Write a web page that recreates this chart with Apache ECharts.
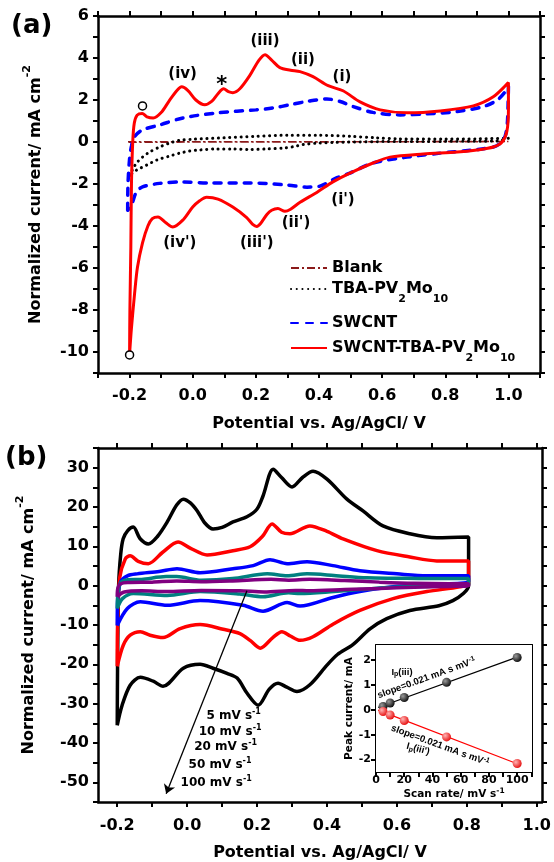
<!DOCTYPE html>
<html>
<head>
<meta charset="utf-8">
<script src="https://cdn.jsdelivr.net/npm/echarts@6.0.0/dist/echarts.min.js"></script>
<style>
html,body{margin:0;padding:0;background:#fff}
#main{width:554px;height:862px}
</style>
</head>
<body>
<div id="main"></div>
<script>
var FONT = 'DejaVu Sans';
var NARROW = 'Liberation Sans';

// ---- panel (a): potential (V) vs normalized current (mA cm-2), one closed loop per film
var blankA = [[-0.205, 0.01], [1.0, 0.02], [1.0, -0.01], [-0.205, -0.01]];
var tbaA = [[-0.2,-1.6],[-0.19,-1.3],[-0.178,-1.0],[-0.159,-0.72],[-0.137,-0.48],[-0.105,-0.24],[-0.073,-0.05],[-0.041,0.08],[0,0.13],[0.1,0.2],[0.2,0.27],[0.3,0.32],[0.4,0.32],[0.5,0.27],[0.58,0.2],[0.65,0.15],[0.8,0.14],[0.9,0.15],[1.0,0.18],
  [0.97,0.05],[0.8,0.03],[0.6,0.02],[0.45,-0.02],[0.4,-0.05],[0.35,-0.12],[0.32,-0.22],[0.286,-0.29],[0.235,-0.33],[0.181,-0.36],[0.127,-0.33],[0.076,-0.33],[0.022,-0.38],[-0.01,-0.43],[-0.041,-0.53],[-0.073,-0.67],[-0.114,-0.86],[-0.146,-1.1],[-0.178,-1.34],[-0.2,-1.6]];
var swcntA = [[-0.206,-3.25],[-0.205,-2.0],[-0.2,-0.8],[-0.194,-0.2],[-0.185,0.24],[-0.16,0.57],[-0.105,0.81],[-0.03,1.15],[0.08,1.39],[0.2,1.53],[0.255,1.62],[0.31,1.78],[0.362,1.93],[0.425,2.05],[0.467,1.93],[0.508,1.69],[0.571,1.41],[0.657,1.29],[0.743,1.34],[0.838,1.45],[0.921,1.69],[0.965,2.0],[0.99,2.4],[1.0,2.65],
  [0.997,1.0],[0.99,0.3],[0.975,-0.05],[0.952,-0.24],[0.889,-0.38],[0.784,-0.53],[0.679,-0.72],[0.571,-1.0],[0.498,-1.48],[0.457,-1.7],[0.403,-2.1],[0.362,-2.15],[0.3,-2.05],[0.181,-1.95],[0.05,-1.95],[-0.032,-1.9],[-0.105,-1.97],[-0.159,-2.14],[-0.178,-2.37],[-0.194,-3.0],[-0.206,-3.25]];
var hybridA = [[-0.2,-10.1],[-0.199,-8],[-0.196,-5],[-0.194,-2],[-0.19,0],[-0.185,0.9],[-0.176,1.28],[-0.16,1.36],[-0.145,1.2],[-0.125,1.14],[-0.1,1.4],[-0.075,1.95],[-0.05,2.45],[-0.035,2.63],[-0.015,2.45],[0.01,2.0],[0.038,1.77],[0.06,1.93],[0.08,2.3],[0.098,2.53],[0.113,2.4],[0.127,2.35],[0.15,2.55],[0.18,3.15],[0.21,3.9],[0.229,4.16],[0.25,3.9],[0.276,3.54],[0.31,3.42],[0.34,3.35],[0.381,3.11],[0.429,2.68],[0.476,2.44],[0.53,1.91],[0.594,1.53],[0.679,1.39],[0.784,1.48],[0.889,1.72],[0.952,2.15],[1.0,2.83],
  [1.0,1.5],[0.995,0.5],[0.98,0.0],[0.952,-0.24],[0.9,-0.38],[0.838,-0.48],[0.73,-0.57],[0.625,-0.72],[0.571,-1.0],[0.498,-1.48],[0.444,-1.9],[0.393,-2.4],[0.34,-2.87],[0.31,-3.2],[0.292,-3.3],[0.27,-3.17],[0.25,-3.25],[0.235,-3.45],[0.215,-3.88],[0.203,-4.02],[0.19,-3.92],[0.171,-3.6],[0.127,-3.1],[0.08,-2.72],[0.044,-2.63],[0.022,-2.8],[0.0,-3.1],[-0.03,-3.7],[-0.063,-4.05],[-0.085,-3.85],[-0.11,-3.57],[-0.128,-3.65],[-0.142,-4.0],[-0.159,-4.8],[-0.175,-5.96],[-0.184,-7.2],[-0.194,-8.85],[-0.2,-10.1]];
var circlesA = [[-0.159, 1.72], [-0.2, -10.14]];
var notesA = [[-0.032,3.25,'(iv)'],[0.092,2.68,'*'],[0.229,4.8,'(iii)'],[0.349,3.9,'(ii)'],[0.473,3.1,'(i)'],
  [0.476,-2.78,"(i')"],[0.327,-3.88,"(ii')"],[0.203,-4.83,"(iii')"],[-0.041,-4.83,"(iv')"]];

// ---- panel (b): scan-rate series
var cv100 = [[-0.2,-35.5],[-0.199,-20],[-0.196,0],[-0.19,8],[-0.183,11.9],[-0.17,14],[-0.154,14.9],[-0.135,12],[-0.111,10.6],[-0.085,12.5],[-0.057,16.2],[-0.03,20.5],[-0.011,22.0],[0.01,21],[0.029,19],[0.05,16],[0.074,14.4],[0.1,14.8],[0.131,16.2],[0.171,17.5],[0.2,19.5],[0.217,22.8],[0.246,29.6],[0.27,27.5],[0.3,25.1],[0.33,27.5],[0.36,29.1],[0.4,27.1],[0.457,22.0],[0.503,19],[0.56,15.2],[0.637,13.2],[0.714,12.2],[0.805,12.4],
  [0.805,0],[0.79,-2],[0.76,-3.8],[0.72,-5.1],[0.637,-6.3],[0.571,-8.4],[0.523,-11],[0.474,-15],[0.43,-17.5],[0.4,-20.2],[0.351,-25.2],[0.314,-26.9],[0.285,-25.8],[0.26,-24.8],[0.235,-26.3],[0.203,-30.4],[0.171,-27.3],[0.143,-23.5],[0.114,-22.3],[0.074,-21],[0.037,-20],[-0.011,-21],[-0.069,-25.6],[-0.097,-24.3],[-0.134,-23.3],[-0.163,-25.3],[-0.186,-30.4],[-0.2,-35.5]];
var cv50 = [[-0.2,-20.5],[-0.199,-10],[-0.193,2],[-0.177,6.8],[-0.163,7.6],[-0.14,6.2],[-0.111,5.6],[-0.07,8.5],[-0.026,11.1],[0.01,9.5],[0.057,7.8],[0.131,8.9],[0.18,9.9],[0.215,12.5],[0.243,15.7],[0.27,13.6],[0.294,13.2],[0.351,15.2],[0.4,13.8],[0.446,11.9],[0.543,8.9],[0.637,7.3],[0.714,6.3],[0.805,6.3],
  [0.805,0.5],[0.78,-0.3],[0.686,-1.5],[0.589,-3.3],[0.494,-6.3],[0.417,-9.8],[0.36,-13],[0.323,-13.9],[0.295,-12.8],[0.271,-11.7],[0.245,-13.2],[0.209,-15.9],[0.18,-13.9],[0.151,-12.2],[0.103,-11.1],[0.037,-9.9],[-0.02,-10.9],[-0.069,-13.2],[-0.106,-12.6],[-0.134,-11.7],[-0.163,-12.6],[-0.183,-15.2],[-0.2,-20.5]];
var cv20 = [[-0.2,-10.1],[-0.199,-4],[-0.19,1.0],[-0.171,2.5],[-0.143,3.0],[-0.08,3.6],[-0.029,4.3],[0.037,3.3],[0.131,4.3],[0.189,5.1],[0.237,6.6],[0.286,5.6],[0.343,6.1],[0.417,5.1],[0.494,3.8],[0.6,3.0],[0.686,2.5],[0.805,2.5],
  [0.805,1.0],[0.686,0.3],[0.589,-0.3],[0.494,-1.5],[0.417,-3.0],[0.323,-5.2],[0.286,-4.3],[0.217,-6.5],[0.16,-5.0],[0.037,-3.8],[-0.057,-5.0],[-0.134,-4.1],[-0.171,-5.8],[-0.2,-10.1]];
var cv10 = [[-0.2,-5.8],[-0.198,-2],[-0.19,0.8],[-0.17,1.5],[-0.13,1.6],[-0.06,2.3],[-0.03,2.3],[0.04,1.4],[0.13,1.8],[0.229,3.0],[0.286,2.5],[0.343,3.0],[0.42,2.6],[0.514,2.0],[0.6,1.9],[0.686,1.8],[0.805,1.8],
  [0.805,0.3],[0.75,-0.1],[0.686,-0.2],[0.589,-0.4],[0.494,-1.0],[0.42,-1.5],[0.323,-2.0],[0.29,-1.8],[0.217,-2.8],[0.15,-2.1],[0.037,-1.5],[-0.057,-2.5],[-0.154,-2.0],[-0.185,-3.3],[-0.2,-5.8]];
var cv5 = [[-0.2,-2.8],[-0.198,-0.5],[-0.19,0.5],[-0.17,0.8],[-0.1,0.9],[-0.03,1.2],[0.04,1.0],[0.13,1.2],[0.24,1.6],[0.29,1.4],[0.35,1.6],[0.45,1.3],[0.55,0.9],[0.65,0.6],[0.75,0.5],[0.805,0.5],
  [0.805,0],[0.75,-0.2],[0.65,-0.4],[0.55,-0.7],[0.45,-1.0],[0.35,-1.3],[0.31,-1.2],[0.22,-1.6],[0.15,-1.3],[0.04,-1.2],[-0.06,-1.5],[-0.13,-1.3],[-0.18,-1.6],[-0.2,-2.8]];
var speedNotes = [[0.133,-33.2,'5 mV s'],[0.123,-37.2,'10 mV s'],[0.11,-41,'20 mV s'],[0.094,-45.6,'50 mV s'],[0.083,-50.1,'100 mV s']];
var arrowB = [[0.171,-1.3],[-0.06,-52.9]];

// ---- inset: peak current vs scan rate
var scanRates = [5, 10, 20, 50, 100];
var ipAnodic = [0.13, 0.27, 0.49, 1.1, 2.1];
var ipCathodic = [-0.07, -0.21, -0.43, -1.09, -2.16];

// ---- ticks
var ticksXa = [-0.3,-0.2,-0.1,0,0.1,0.2,0.3,0.4,0.5,0.6,0.7,0.8,0.9,1.0,1.1];
var labelsXa = [-0.2,0,0.2,0.4,0.6,0.8,1.0];
var ticksYa = [-11,-10,-9,-8,-7,-6,-5,-4,-3,-2,-1,0,1,2,3,4,5,6];
var labelsYa = [-10,-8,-6,-4,-2,0,2,4,6];
var ticksXb = [-0.2,-0.1,0,0.1,0.2,0.3,0.4,0.5,0.6,0.7,0.8,0.9,1.0];
var ticksYb = [-55,-50,-45,-40,-35,-30,-25,-20,-15,-10,-5,0,5,10,15,20,25,30,35];
var labelsYb = [-50,-40,-30,-20,-10,0,10,20,30];
var labelsXi = [0,20,40,60,80,100];
var ticksXi = [0,10,20,30,40,50,60,70,80,90,100,110];
var labelsYi = [-2,-1,0,1,2];

function pairs(xs, ys) {
    return xs.map(function (x, i) { return [x, ys[i]]; });
}
function fitLine(xs, ys, x0, x1) {
    var n = xs.length, mx = 0, my = 0, sxx = 0, sxy = 0;
    for (var i = 0; i < n; i++) { mx += xs[i] / n; my += ys[i] / n; }
    for (var j = 0; j < n; j++) { sxx += (xs[j] - mx) * (xs[j] - mx); sxy += (xs[j] - mx) * (ys[j] - my); }
    var k = sxy / sxx, b = my - k * mx;
    return [[x0, k * x0 + b], [x1, k * x1 + b]];
}

function txt(size) {
    return {fontFamily: FONT, fontWeight: 'bold', fontSize: size, color: '#000'};
}
function richSet(size, small, lh, fam) {
    fam = fam || FONT;
    return {
        m: {fontFamily: fam, fontWeight: 'bold', fontSize: size, color: '#000', lineHeight: lh, verticalAlign: 'middle'},
        hi: {fontFamily: fam, fontWeight: 'bold', fontSize: small, color: '#000', verticalAlign: 'top'},
        lo: {fontFamily: fam, fontWeight: 'bold', fontSize: small, color: '#000', verticalAlign: 'bottom'}
    };
}

function axis(grid, pos, min, max, ticks, labels, fmt, size, margin, lw) {
    return {
        type: 'value', gridIndex: grid, position: pos, min: min, max: max,
        splitLine: {show: false},
        axisLine: {show: true, onZero: false, lineStyle: {color: '#000', width: lw}},
        axisTick: {show: !!ticks, inside: false, length: 5, lineStyle: {color: '#000', width: 2}, customValues: ticks || []},
        axisLabel: {show: !!labels, customValues: labels || [], margin: margin, formatter: fmt,
            fontFamily: FONT, fontWeight: 'bold', fontSize: size, color: '#000'}
    };
}
function f1(v) { return v.toFixed(1); }
function f0(v) { return String(Math.round(v)); }

var xAxes = [
    axis(0, 'bottom', -0.3, 1.1, ticksXa, labelsXa, f1, 16, 15, 2.5),
    axis(0, 'top', -0.3, 1.1, ticksXa, null, null, 16, 9, 2.5),
    axis(1, 'bottom', -0.255, 1.015, ticksXb, labelsXa, f1, 16, 16, 2.5),
    axis(1, 'top', -0.255, 1.015, ticksXb, null, null, 16, 9, 2.5),
    axis(2, 'bottom', 0, 110.5, ticksXi, labelsXi, f0, 11, 3, 2),
    axis(2, 'top', 0, 110.5, null, null, null, 11, 3, 2)
];
var yAxes = [
    axis(0, 'left', -11, 6, ticksYa, labelsYa, f0, 16, 9, 2.5),
    axis(0, 'right', -11, 6, ticksYa, null, null, 16, 9, 2.5),
    axis(1, 'left', -55, 35, ticksYb, labelsYb, f0, 16, 9, 2.5),
    axis(1, 'right', -55, 35, ticksYb, null, null, 16, 9, 2.5),
    axis(2, 'left', -2.5, 2.6, labelsYi, labelsYi, f0, 11, 5, 2),
    axis(2, 'right', -2.5, 2.6, null, null, null, 11, 5, 2)
];

var xName = 'Potential vs. Ag/AgCl/ V';
xAxes[0].name = xName; xAxes[0].nameLocation = 'middle'; xAxes[0].nameGap = 43; xAxes[0].nameTextStyle = txt(16);
xAxes[2].name = xName; xAxes[2].nameLocation = 'middle'; xAxes[2].nameGap = 43; xAxes[2].nameTextStyle = txt(16);
var yName = '{m|Normalized current/ mA cm}{hi|-2}';
[0, 2].forEach(function (i) {
    yAxes[i].name = yName; yAxes[i].nameLocation = 'middle'; yAxes[i].nameRotate = 90;
    yAxes[i].nameTextStyle = {rich: richSet(16, 11, 28)};
});
yAxes[0].nameGap = 48;
yAxes[2].nameGap = 55;
xAxes[4].name = '{m|Scan rate/ mV s}{hi|-1}'; xAxes[4].nameLocation = 'middle'; xAxes[4].nameGap = 13;
xAxes[4].nameTextStyle = {rich: richSet(10.5, 7.5, 14)};
yAxes[4].name = 'Peak current/ mA'; yAxes[4].nameLocation = 'middle'; yAxes[4].nameRotate = 90; yAxes[4].nameGap = 20;
yAxes[4].nameTextStyle = txt(10.5);

function cv(name, data, color, width, type, xi, yi, extra) {
    var s = {
        name: name, type: 'line', data: data, xAxisIndex: xi, yAxisIndex: yi,
        symbol: 'none', smooth: 0.3, silent: true,
        lineStyle: {color: color, width: width, type: type || 'solid'},
        itemStyle: {color: color}
    };
    if (extra) for (var k in extra) s.lineStyle[k] = extra[k];
    return s;
}

function noteSeries(list, xi, yi, size, rich, fam) {
    return {
        type: 'scatter', xAxisIndex: xi, yAxisIndex: yi, symbolSize: 1, silent: true, z: 6,
        itemStyle: {color: 'rgba(0,0,0,0)', opacity: 1},
        label: {show: true, position: 'inside', opacity: 1, formatter: function (p) { return p.name; },
            fontFamily: fam || FONT, fontWeight: 'bold', fontSize: size, color: '#000', rich: rich},
        data: list.map(function (d) {
            var item = {name: d[2], value: [d[0], d[1]]};
            if (d[3] !== undefined) item.label = {rotate: d[3]};
            if (d[2] === '*') item.label = {fontSize: 21};
            return item;
        })
    };
}

var legendNames = {
    'Blank': '{m|Blank}',
    'TBA-PV2Mo10': '{m|TBA-PV}{lo|2}{m|Mo}{lo|10}',
    'SWCNT': '{m|SWCNT}',
    'SWCNT-TBA-PV2Mo10': '{m|SWCNT-TBA-PV}{lo|2}{m|Mo}{lo|10}'
};
function legendRow(name, top, lh) {
    return {
        data: [name], left: 290, top: top, orient: 'vertical', itemWidth: 36, itemHeight: 12,
        padding: 0, selectedMode: false,
        itemStyle: {opacity: 0},
        formatter: function (n) { return legendNames[n]; },
        textStyle: {rich: richSet(16, 11, lh)}
    };
}

var inkDark = new echarts.graphic.RadialGradient(0.35, 0.35, 0.75, [{offset: 0, color: '#9a9a9a'}, {offset: 1, color: '#000'}]);
var inkRed = new echarts.graphic.RadialGradient(0.35, 0.35, 0.75, [{offset: 0, color: '#ffb4b4'}, {offset: 1, color: '#e40000'}]);

var insetNotes = [[18.4, 1.52, '{m|I}{lo|p}{m|(iii)}'], [35.8, 1.27, '{m|slope=0.021 mA s mV}{hi|-1}', 20],
    [45.4, -1.44, '{m|slope=0.021 mA s mV}{hi|-1}', -20], [29.8, -1.58, "{m|I}{lo|p}{m|(iii')}", -15]];
var speedNoteItems = speedNotes.map(function (d) { return [d[0], d[1], '{m|' + d[2] + '}{hi|-1}']; });

var mychart = echarts.init(document.getElementById('main'));
var slow = cv('5 mV/s', cv5, '#800080', 3.5, 'solid', 2, 2);
slow.markLine = {
    silent: true, symbol: ['none', 'arrow'], symbolSize: 9,
    label: {show: false},
    itemStyle: {color: '#000', opacity: 1},
    lineStyle: {color: '#000', width: 1.3, type: 'solid', opacity: 1},
    data: [[{coord: arrowB[0]}, {coord: arrowB[1]}]]
};
var option = {
    animation: false,
    backgroundColor: '#fff',
    grid: [
        {left: 98, top: 16, width: 442, height: 357},
        {left: 98, top: 448, width: 444, height: 355},
        {left: 376, top: 645, width: 156, height: 127, show: true, backgroundColor: '#fff', borderWidth: 0, z: 3}
    ],
    xAxis: xAxes,
    yAxis: yAxes,
    legend: [
        legendRow('Blank', 260, 19),
        legendRow('TBA-PV2Mo10', 281, 32),
        legendRow('SWCNT', 315, 19),
        legendRow('SWCNT-TBA-PV2Mo10', 340, 32)
    ],
    graphic: [
        {type: 'text', left: 11, top: 13, style: {text: '(a)', font: 'bold 26px "DejaVu Sans"', fill: '#000'}},
        {type: 'text', left: 5, top: 445, style: {text: '(b)', font: 'bold 26px "DejaVu Sans"', fill: '#000'}}
    ],
    series: [
        cv('Blank', blankA, '#8b1a1a', 1.5, [8, 3, 2, 3], 0, 0),
        cv('TBA-PV2Mo10', tbaA, '#000', 3, [0.1, 5.6], 0, 0, {cap: 'round'}),
        cv('SWCNT', swcntA, '#0000ff', 3.5, [7, 8], 0, 0, {cap: 'round'}),
        cv('SWCNT-TBA-PV2Mo10', hybridA, '#ff0000', 3, 'solid', 0, 0),
        {type: 'scatter', xAxisIndex: 0, yAxisIndex: 0, data: circlesA, symbol: 'circle', symbolSize: 8, silent: true, z: 6,
            itemStyle: {color: '#fff', borderColor: '#000', borderWidth: 1.5, opacity: 1}},
        noteSeries(notesA, 0, 0, 15),

        cv('100 mV/s', cv100, '#000000', 3.5, 'solid', 2, 2),
        cv('50 mV/s', cv50, '#ff0000', 3.5, 'solid', 2, 2),
        cv('20 mV/s', cv20, '#0000ff', 3.5, 'solid', 2, 2),
        cv('10 mV/s', cv10, '#008080', 3.5, 'solid', 2, 2),
        slow,
        noteSeries(speedNoteItems, 2, 2, 12, richSet(12, 8, 16)),

        {type: 'line', xAxisIndex: 4, yAxisIndex: 4, data: fitLine(scanRates, ipAnodic, 1.5, 100), symbol: 'none', silent: true, z: 4,
            lineStyle: {color: '#000', width: 1.2}},
        {type: 'line', xAxisIndex: 4, yAxisIndex: 4, data: fitLine(scanRates, ipCathodic, 1.5, 100), symbol: 'none', silent: true, z: 4,
            lineStyle: {color: '#ff0000', width: 1.2}},
        {type: 'scatter', xAxisIndex: 4, yAxisIndex: 4, data: pairs(scanRates, ipAnodic), symbolSize: 9, silent: true, z: 5,
            itemStyle: {color: inkDark, opacity: 1}},
        {type: 'scatter', xAxisIndex: 4, yAxisIndex: 4, data: pairs(scanRates, ipCathodic), symbolSize: 9, silent: true, z: 5,
            itemStyle: {color: inkRed, opacity: 1}},
        noteSeries(insetNotes, 4, 4, 9.5, richSet(9.5, 7, 12, NARROW), NARROW)
    ]
};
mychart.setOption(option);
</script>
</body>
</html>
